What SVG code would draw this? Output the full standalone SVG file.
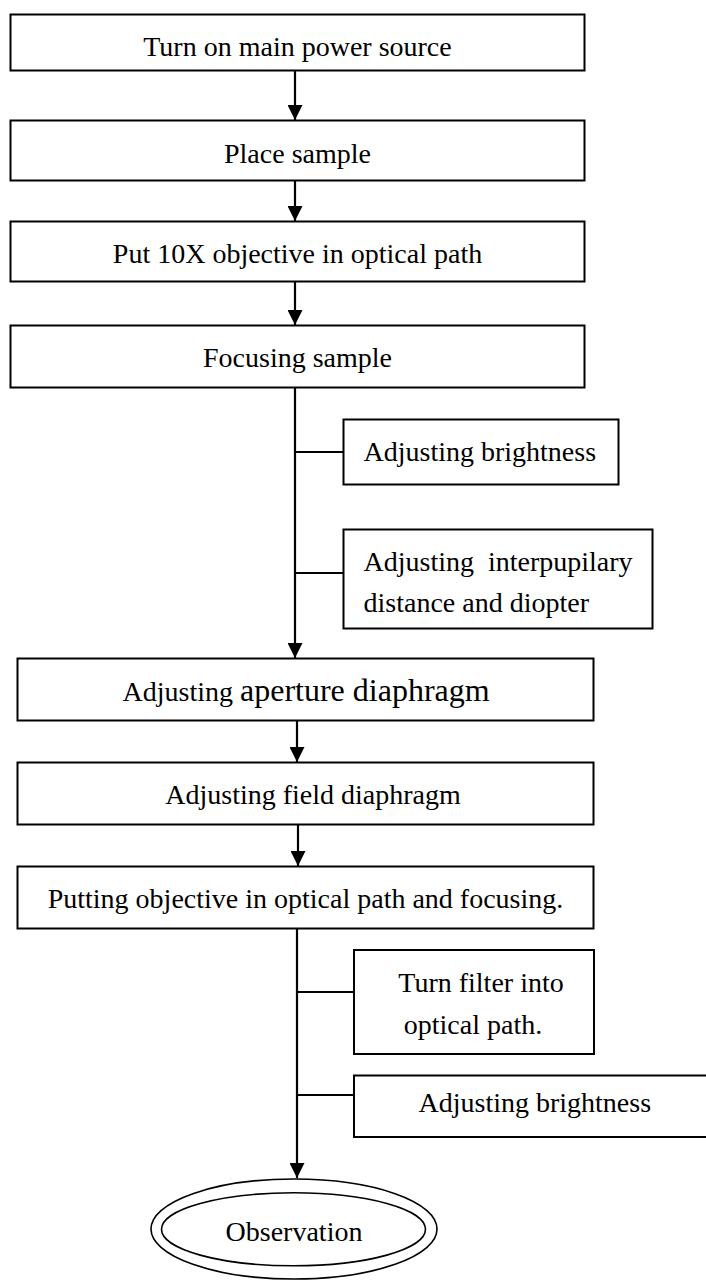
<svg xmlns="http://www.w3.org/2000/svg" width="706" height="1280" viewBox="0 0 706 1280">
<defs>
<marker id="ah" viewBox="0 0 15 15" refX="15" refY="7.5" markerWidth="15" markerHeight="15" markerUnits="userSpaceOnUse" orient="auto">
<path d="M0,0 L15,7.5 L0,15 z" fill="#000"/>
</marker>
<style>
rect.b{fill:#fff;stroke:#000;stroke-width:2}
ellipse.e{fill:none;stroke:#000;stroke-width:1.6}
line.c{stroke:#000;stroke-width:2.2}
line.a{stroke:#000;stroke-width:2.2;marker-end:url(#ah)}
text{font-family:"Liberation Serif","Times New Roman",serif;font-size:28px;fill:#000}
text.m{text-anchor:middle}
</style>
</defs>
<rect width="706" height="1280" fill="#fff"/>
<g id="connectors">
<line class="a" x1="295" y1="70" x2="295" y2="120"/>
<line class="a" x1="295" y1="180" x2="295" y2="221"/>
<line class="a" x1="295" y1="282" x2="295" y2="325"/>
<line class="a" x1="295" y1="388" x2="295" y2="658"/>
<line class="c" x1="295" y1="452" x2="343" y2="452"/>
<line class="c" x1="295" y1="573" x2="343" y2="573"/>
<line class="a" x1="297" y1="721" x2="297" y2="762"/>
<line class="a" x1="298" y1="825" x2="298" y2="866"/>
<line class="a" x1="297" y1="929" x2="297" y2="1178"/>
<line class="c" x1="297" y1="992" x2="354" y2="992"/>
<line class="c" x1="297" y1="1095" x2="354" y2="1095"/>
</g>
<g id="n1"><rect class="b" x="10.5" y="14.5" width="574" height="56"/><text class="m" x="297.5" y="56">Turn on main power source</text></g>
<g id="n2"><rect class="b" x="10.5" y="120.5" width="574" height="60"/><text class="m" x="297.5" y="163">Place sample</text></g>
<g id="n3"><rect class="b" x="10.5" y="221.5" width="574" height="60"/><text class="m" x="297.5" y="263">Put 10X objective in optical path</text></g>
<g id="n4"><rect class="b" x="10.5" y="325.5" width="574" height="62"/><text class="m" x="297.5" y="367">Focusing sample</text></g>
<g id="s1"><rect class="b" x="343.5" y="419.5" width="275" height="65"/><text x="363.5" y="461">Adjusting brightness</text></g>
<g id="s2"><rect class="b" x="343.5" y="529.5" width="309" height="99"/><text x="363.5" y="571" xml:space="preserve">Adjusting  interpupilary</text><text x="363.5" y="612">distance and diopter</text></g>
<g id="n5"><rect class="b" x="17.5" y="658.5" width="576" height="62"/><text x="122.5" y="701">Adjusting <tspan font-size="32">aperture diaphragm</tspan></text></g>
<g id="n6"><rect class="b" x="17.5" y="762.5" width="576" height="62"/><text class="m" x="313" y="804">Adjusting field diaphragm</text></g>
<g id="n7"><rect class="b" x="17.5" y="866.5" width="576" height="62"/><text class="m" x="305.5" y="908">Putting objective in optical path and focusing.</text></g>
<g id="s3"><rect class="b" x="354" y="950" width="240" height="104"/><text class="m" x="481" y="992">Turn filter into</text><text class="m" x="473" y="1034">optical path.</text></g>
<g id="s4"><rect class="b" x="354" y="1075.5" width="370" height="61.5"/><text x="418.5" y="1112">Adjusting brightness</text></g>
<g id="end"><ellipse class="e" cx="294" cy="1229" rx="143" ry="50"/><ellipse class="e" cx="293.5" cy="1229.3" rx="132" ry="36.5"/><text class="m" x="294" y="1241">Observation</text></g>
</svg>
